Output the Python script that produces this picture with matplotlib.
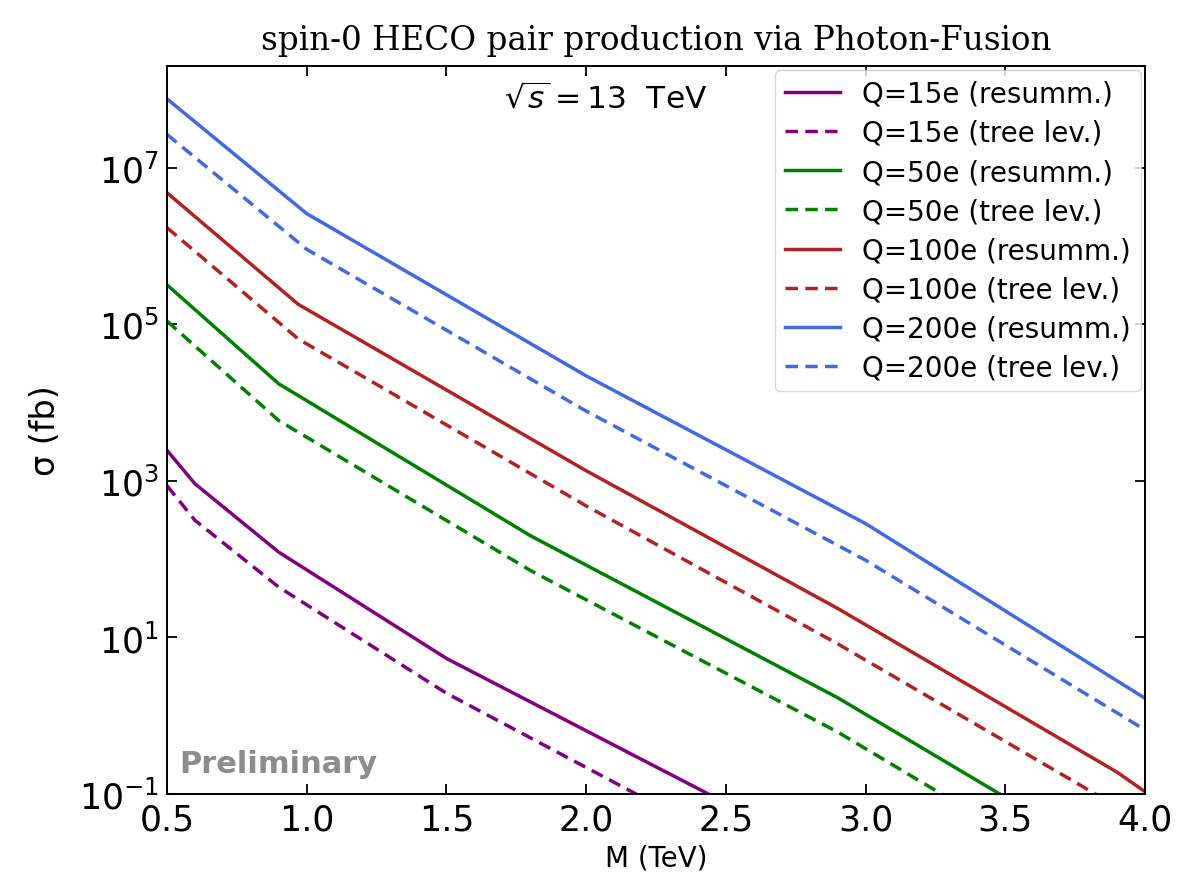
import numpy as np
import matplotlib
matplotlib.use('Agg')
import matplotlib.pyplot as plt
import matplotlib.ticker as mticker

# cross sections (fb) vs M (TeV)
m_q15 = [0.5, 0.6, 0.9, 1.5, 4.0]
q15_res = [2.46e3, 920, 123, 5.4, 1.3e-4]
q15_tree = [870, 314, 44, 1.94, 3.5e-5]

m_q50 = [0.5, 0.9, 1.8, 2.9, 4.0]
q50_res = [3.2e5, 1.74e4, 200, 1.7, 7.9e-3]
q50_tree = [1.1e5, 5.9e3, 72, 0.62, 2.8e-3]

m_q100 = [0.5, 0.97, 2.0, 2.9, 3.9, 4.0]
q100_res = [4.8e6, 1.8e5, 1.35e3, 23.5, 0.19, 0.107]
q100_tree = [1.72e6, 6.5e4, 480, 8.3, 0.069, 0.038]

m_q200 = [0.5, 1.0, 2.0, 3.0, 4.0]
q200_res = [7.6e7, 2.6e6, 2.2e4, 285, 1.67]
q200_tree = [2.67e7, 9.1e5, 7.8e3, 97, 0.66]

series = [
    ('Q=15e', m_q15, q15_res, q15_tree, 'purple'),
    ('Q=50e', m_q50, q50_res, q50_tree, 'green'),
    ('Q=100e', m_q100, q100_res, q100_tree, 'firebrick'),
    ('Q=200e', m_q200, q200_res, q200_tree, 'royalblue'),
]

fig = plt.figure(figsize=(11.98, 8.78), dpi=100)
ax = fig.add_axes([0.1394, 0.0945, 0.8164, 0.8292])

for name, m, res, tree, col in series:
    ax.plot(m, res, color=col, lw=2.5, label=name + ' (resumm.)')
    ax.plot(m, tree, color=col, lw=2.5, ls='--', dashes=(3.6, 2.1),
            label=name + ' (tree lev.)')

ax.set_yscale('log')
ax.set_xlim(0.5, 4.0)
ax.set_ylim(1e-1, 2e8)
ax.yaxis.set_major_locator(mticker.FixedLocator([1e-1, 1e1, 1e3, 1e5, 1e7]))
ax.yaxis.set_major_formatter(mticker.LogFormatterSciNotation())
ax.yaxis.set_minor_locator(mticker.NullLocator())
ax.xaxis.set_major_locator(mticker.MultipleLocator(0.5))

ax.tick_params(direction='in', top=True, right=True, length=7, width=1.3,
               labelsize=25, pad=6)
for sp in ax.spines.values():
    sp.set_linewidth(1.4)

ax.set_xlabel('M (TeV)', fontsize=20, labelpad=5)
ax.set_ylabel('σ (fb)', fontsize=24, labelpad=12)
ax.set_title('spin-0 HECO pair production via Photon-Fusion',
             family='DejaVu Serif', fontsize=23.5, pad=12)

ax.text(0.345, 0.955, r'$\sqrt{s} = 13$  TeV', transform=ax.transAxes,
        fontsize=22.5, va='center', ha='left')
ax.text(0.013, 0.03, 'Preliminary', transform=ax.transAxes,
        fontsize=22, fontweight='bold', color='#8c8c8c', va='baseline')

ax.legend(loc='upper right', fontsize=20, handlelength=2.0,
          borderaxespad=0.15, labelspacing=0.4, borderpad=0.35)

fig.savefig('out.png', dpi=100)
